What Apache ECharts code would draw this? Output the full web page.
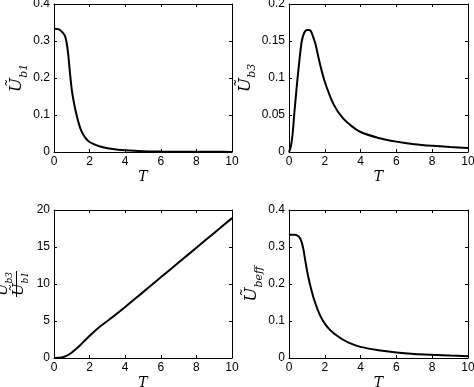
<!DOCTYPE html>
<html><head><meta charset="utf-8">
<script src="https://cdn.jsdelivr.net/npm/echarts@6/dist/echarts.min.js"></script>
<style>html,body{margin:0;padding:0;background:#fff}#c{width:474px;height:387px}</style>
</head><body><div id="c"></div>
<script>
// ---- data ----
const xTicks = [0, 2, 4, 6, 8, 10];
const T1 = [0, 0.25, 0.5, 0.6, 0.7, 0.8, 0.9, 1.0, 1.1, 1.2, 1.3, 1.4, 1.5, 1.6, 1.8, 2.0, 2.25, 2.5, 3, 3.5, 4, 5, 6, 7, 8, 9, 10];
const Ub1 = [0.333, 0.332, 0.322, 0.315, 0.298, 0.263, 0.212, 0.168, 0.138, 0.114, 0.094, 0.076, 0.061, 0.051, 0.036, 0.027, 0.021, 0.016, 0.0099, 0.0065, 0.0045, 0.0022, 0.0012, 0.0008, 0.0005, 0.0004, 0.0003];
const T2 = [0, 0.1, 0.2, 0.3, 0.4, 0.5, 0.6, 0.7, 0.8, 0.9, 1.0, 1.1, 1.2, 1.3, 1.4, 1.5, 1.7, 2.0, 2.5, 3, 3.5, 4, 5, 6, 7, 8, 9, 10];
const Ub3 = [0, 0.007, 0.024, 0.053, 0.08, 0.105, 0.128, 0.148, 0.158, 0.163, 0.165, 0.165, 0.164, 0.159, 0.152, 0.144, 0.122, 0.095, 0.064, 0.046, 0.035, 0.027, 0.019, 0.014, 0.0105, 0.0083, 0.0067, 0.0055];
const T3 = [0, 0.3, 0.5, 0.75, 1, 1.25, 1.5, 1.75, 2, 2.5, 3, 4, 5, 6, 7, 8, 9, 10];
const Ratio = [0, 0.02, 0.1, 0.35, 0.75, 1.25, 1.8, 2.4, 3.0, 4.1, 5.0, 6.9, 8.9, 10.9, 12.9, 14.9, 16.9, 18.9];
const T4 = [0, 0.3, 0.5, 0.6, 0.7, 0.8, 0.9, 1.0, 1.1, 1.2, 1.3, 1.4, 1.6, 1.8, 2.0, 2.25, 2.5, 3, 3.5, 4, 5, 6, 7, 8, 9, 10];
const Ubeff = [0.333, 0.333, 0.330, 0.325, 0.314, 0.295, 0.266, 0.238, 0.214, 0.193, 0.175, 0.158, 0.131, 0.109, 0.093, 0.078, 0.067, 0.050, 0.038, 0.030, 0.021, 0.015, 0.011, 0.0085, 0.0065, 0.005];
const yRanges = [[0, 0.4, 0.1], [0, 0.2, 0.05], [0, 20, 5], [0, 0.4, 0.1]];

// ---- chart ----
const grids = [
  {left: 54, top: 4, width: 178, height: 148, outerBoundsMode: 'none'},
  {left: 289, top: 4, width: 179, height: 148, outerBoundsMode: 'none'},
  {left: 54, top: 210, width: 178, height: 148, outerBoundsMode: 'none'},
  {left: 289, top: 210, width: 179, height: 148, outerBoundsMode: 'none'}
];
const series = [[T1, Ub1], [T2, Ub3], [T3, Ratio], [T4, Ubeff]];
const serif = 'DejaVu Serif';
const rich = {
  u: {fontFamily: serif, fontStyle: 'italic', fontSize: 17, color: '#000', verticalAlign: 'bottom', padding: [0, 0, 4, 0], lineHeight: 22},
  s: {fontFamily: serif, fontStyle: 'italic', fontSize: 11, color: '#000', verticalAlign: 'bottom', lineHeight: 22},
  fu: {fontFamily: serif, fontStyle: 'italic', fontSize: 15, color: '#000', verticalAlign: 'bottom', padding: [0, 0, 5, 0], lineHeight: 16},
  fs: {fontFamily: serif, fontStyle: 'italic', fontSize: 9, color: '#000', verticalAlign: 'bottom', padding: [0, 0, 2, 0], lineHeight: 16}
};
const yNames = ['{u|Ũ}{s|b1}', '{u|Ũ}{s|b3}', '{fu|U}{fs|b3}\n{fu|Ũ}{fs|b1}', '{u|Ũ}{s|beff}'];
const labelStyle = {fontFamily: 'Liberation Sans', fontSize: 12, color: '#000'};
const xAxis = [], yAxis = [], ser = [];
grids.forEach((g, i) => {
  const common = {
    gridIndex: i, type: 'value', splitLine: {show: false},
    axisLine: {show: true, onZero: false, lineStyle: {color: '#000', width: 1}},
    axisTick: {show: true, inside: true, length: 3, lineStyle: {color: '#000'}}
  };
  xAxis.push(Object.assign({}, common, {
    position: 'bottom', min: 0, max: 10, interval: 2,
    axisLabel: Object.assign({margin: 4}, labelStyle),
    name: 'T', nameLocation: 'middle', nameGap: 18,
    nameTextStyle: {fontFamily: serif, fontStyle: 'italic', fontSize: 14, color: '#000'}
  }));
  xAxis.push(Object.assign({}, common, {
    position: 'top', min: 0, max: 10, interval: 2, axisLabel: {show: false}
  }));
  const r = yRanges[i];
  yAxis.push(Object.assign({}, common, {
    position: 'left', min: r[0], max: r[1], interval: r[2],
    axisLabel: Object.assign({margin: 4}, labelStyle),
    name: yNames[i], nameLocation: 'middle', nameRotate: 90, nameGap: 22,
    nameTextStyle: {rich: rich}
  }));
  yAxis.push(Object.assign({}, common, {
    position: 'right', min: r[0], max: r[1], interval: r[2], axisLabel: {show: false}
  }));
  ser.push({
    type: 'line', xAxisIndex: 2 * i, yAxisIndex: 2 * i, smooth: 0.3,
    showSymbol: false, symbol: 'none', animation: false,
    lineStyle: {color: '#000', width: 2},
    data: series[i][0].map((t, k) => [t, series[i][1][k]])
  });
});
const chart = echarts.init(document.getElementById('c'));
chart.setOption({
  animation: false,
  grid: grids,
  xAxis: xAxis, yAxis: yAxis, series: ser,
  graphic: [{type: 'line', shape: {x1: 16.5, y1: 271, x2: 16.5, y2: 297}, style: {stroke: '#000', lineWidth: 1}}]
});
</script></body></html>
